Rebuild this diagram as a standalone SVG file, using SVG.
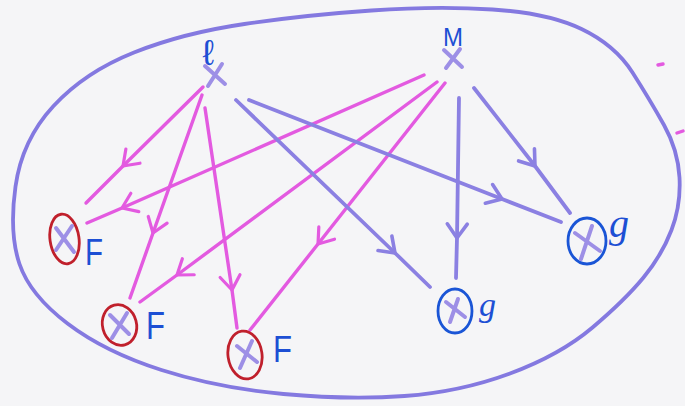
<svg xmlns="http://www.w3.org/2000/svg" width="685" height="406" viewBox="0 0 685 406">
  <style>
    .outline { fill: none; stroke: #8479e0; stroke-width: 3.8; stroke-linecap: round; stroke-linejoin: round; }
    .pink { fill: none; stroke: #e35ae0; stroke-width: 3.4; stroke-linecap: round; stroke-linejoin: round; }
    .blue { fill: none; stroke: #8b80e2; stroke-width: 3.8; stroke-linecap: round; stroke-linejoin: round; }
    .cross { fill: none; stroke: #9d8fe6; stroke-width: 4; stroke-linecap: round; }
    .red { fill: none; stroke: #c0202c; stroke-width: 2.8; }
    .bcirc { fill: none; stroke: #1a55d6; stroke-width: 2.8; }
    .lbl { fill: #1d4fd4; font-family: "Liberation Sans", "DejaVu Sans", sans-serif; }
    .glbl { fill: #1d4fd4; font-family: "Liberation Serif", "DejaVu Serif", serif; font-style: italic; }
  </style>
  <defs>
    <marker id="arrP" markerUnits="userSpaceOnUse" markerWidth="40" markerHeight="40" viewBox="-20 -20 40 40" refX="0" refY="0" orient="auto" overflow="visible">
      <path d="M-14,-10 L0,0 L-14,10" fill="none" stroke="#e35ae0" stroke-width="3.2" stroke-linecap="round" stroke-linejoin="round"/>
    </marker>
    <marker id="arrB" markerUnits="userSpaceOnUse" markerWidth="40" markerHeight="40" viewBox="-20 -20 40 40" refX="0" refY="0" orient="auto" overflow="visible">
      <path d="M-14,-10 L0,0 L-14,10" fill="none" stroke="#8b80e2" stroke-width="3.6" stroke-linecap="round" stroke-linejoin="round"/>
    </marker>
  </defs>
  <rect x="0" y="0" width="685" height="406" fill="#f5f5f7"/>

  <path class="outline" d="M19.5,264 Q9,233 15.5,186.5 Q22,140 53.5,106 Q85,72 134,52.5 Q183,33 244.5,24 Q306,15 371.5,10.5 Q437,6 492.5,9.5 Q548,13 581.5,29 Q615,45 632.5,72.5 Q650,100 664,125 Q678,150 679.5,177.5 Q681,205 671.5,230 Q662,255 643.5,277.5 Q625,300 592.5,327.5 Q560,355 510,373.5 Q460,392 404.5,396 Q349,400 283.5,394 Q218,388 161.5,370 Q105,352 67.5,323.5 Q30,295 19.5,264 Z"/>
  <path class="pink" d="M658,65 L663,64 M677,133 L683,131"/>

  <g id="connectors">
    <path class="pink" marker-mid="url(#arrP)" d="M203,87 L123,166 L86,203"/>
    <path class="pink" marker-mid="url(#arrP)" d="M424,75 L122,208 L87,223"/>
    <path class="pink" marker-mid="url(#arrP)" d="M202,95 L153,233 L130,298"/>
    <path class="pink" marker-mid="url(#arrP)" d="M437,82 L177,275 L140,302"/>
    <path class="pink" marker-mid="url(#arrP)" d="M205,108 L232,290 L237,328"/>
    <path class="pink" marker-mid="url(#arrP)" d="M445,83 L318,244 L250,330"/>
    <path class="blue" marker-mid="url(#arrB)" d="M236,100 L395,253 L430,287"/>
    <path class="blue" marker-mid="url(#arrB)" d="M249,100 L502,199 L561,222"/>
    <path class="blue" marker-mid="url(#arrB)" d="M459,98 L457,238 L456,278"/>
    <path class="blue" marker-mid="url(#arrB)" d="M474,88 L535,166 L570,213"/>
  </g>

  <g id="node-L">
    <path class="cross" d="M205,66 L225,84 M222,64 L208,86"/>
    <text class="lbl" x="208" y="65" font-size="36" text-anchor="middle" font-family="DejaVu Serif">ℓ</text>
  </g>
  <g id="node-M">
    <path class="cross" d="M444,50 L462,67 M460,49 L446,68"/>
    <text class="lbl" x="453" y="46" font-size="26" text-anchor="middle" textLength="20" lengthAdjust="spacingAndGlyphs">M</text>
  </g>

  <g id="node-F1">
    <ellipse class="red" cx="64.5" cy="239" rx="14.5" ry="25" transform="rotate(-8 64.5 239)"/>
    <path class="cross" d="M56,228 L74,252 M72,226 L56,250"/>
    <text class="lbl" x="85" y="265" font-size="36" textLength="18" lengthAdjust="spacingAndGlyphs">F</text>
  </g>
  <g id="node-F2">
    <ellipse class="red" cx="119.5" cy="325" rx="17" ry="20.5" transform="rotate(-15 119.5 325)"/>
    <path class="cross" d="M110,315 L129,334 M127,313 L112,338"/>
    <text class="lbl" x="146" y="339" font-size="38" textLength="19" lengthAdjust="spacingAndGlyphs">F</text>
  </g>
  <g id="node-F3">
    <ellipse class="red" cx="245" cy="355" rx="17" ry="24" transform="rotate(-8 245 355)"/>
    <path class="cross" d="M237,346 L257,362 M252,341 L240,368"/>
    <text class="lbl" x="273" y="362" font-size="36" textLength="19" lengthAdjust="spacingAndGlyphs">F</text>
  </g>
  <g id="node-g1">
    <ellipse class="bcirc" cx="455" cy="311" rx="17" ry="22"/>
    <path class="cross" d="M446,302 L465,317 M458,299 L450,322"/>
    <text class="glbl" x="479" y="316" font-size="34">g</text>
  </g>
  <g id="node-g2">
    <ellipse class="bcirc" cx="587" cy="241" rx="19" ry="23"/>
    <path class="cross" d="M575,233 L600,251 M592,226 L581,259"/>
    <text class="glbl" x="609" y="237" font-size="40">g</text>
  </g>
</svg>
